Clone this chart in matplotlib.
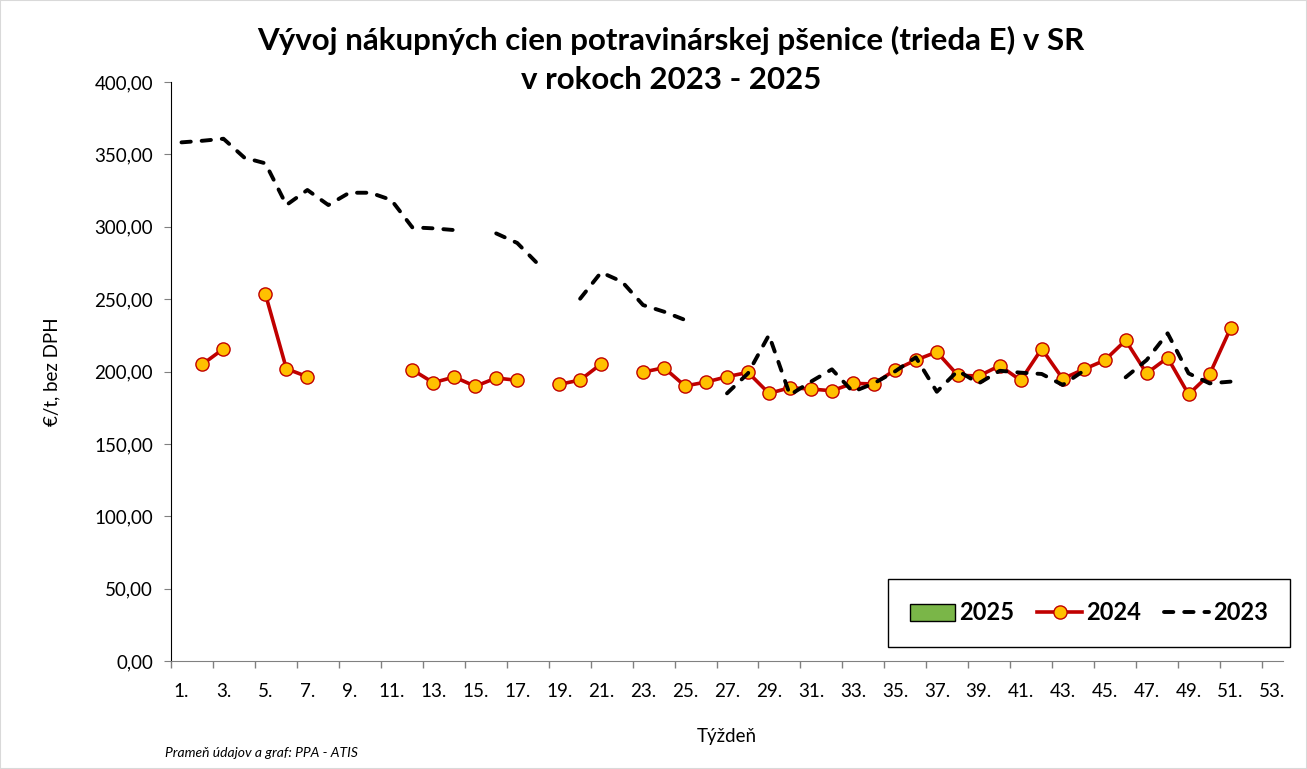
import numpy as np
import matplotlib.pyplot as plt
from matplotlib.patches import Patch, Rectangle

plt.rcParams['font.family'] = ['Lato', 'DejaVu Sans']

nan = np.nan
weeks = np.arange(1, 54)

# 2025 - no data yet
price_2025 = [nan] * 53

# 2024 weekly prices (EUR/t), gaps = no quotation
price_2024 = [nan, 205.0, 215.7, nan, 253.5, 201.9, 196.4, nan, nan, nan,
              nan, 201.2, 192.3, 196.2, 189.8, 195.5, 193.9, nan, 191.1, 194.1,
              205.2, nan, 199.6, 202.6, 190.0, 192.7, 196.4, 199.4, 184.9, 188.8,
              187.9, 186.7, 191.8, 191.4, 201.0, 207.9, 213.5, 197.4, 196.9, 204.0,
              193.9, 215.7, 195.0, 201.5, 207.7, 221.5, 198.7, 209.5, 184.2, 198.0,
              229.8, nan, nan]

# 2023 weekly prices (EUR/t)
price_2023 = [358.3, 359.4, 360.8, 347.7, 343.8, 315.0, 325.4, 315.0, 323.5, 323.5,
              318.5, 299.6, 298.9, 297.7, nan, 295.4, 288.8, 274.1, nan, 250.3,
              268.5, 262.0, 245.9, 241.3, 235.6, nan, 184.9, 198.7, 225.2, 183.8,
              193.0, 201.5, 186.0, 191.8, 200.0, 209.8, 186.0, 200.5, 191.8, 200.5,
              199.2, 198.3, 190.7, 200.5, nan, 196.0, 207.9, 226.4, 198.7, 191.8,
              193.0, nan, nan]

W, H = 1307, 769
fig = plt.figure(figsize=(W / 100, H / 100), dpi=100)
ax = fig.add_axes([171 / W, 1 - 661 / H, (1283 - 171) / W, (661 - 82) / H])

ax.bar(weeks, price_2025, width=0.6, color='#7AB648', edgecolor='black')
ax.plot(weeks, price_2024, color='#C00000', lw=2.6, marker='o', ms=9.5,
        mfc='#FFC000', mec='#C00000', mew=1.0, zorder=3)
ax.plot(weeks, price_2023, color='black', lw=2.8, ls=(0, (2.4, 2.8)),
        dash_capstyle='round', zorder=4)

ax.set_xlim(0.5, 53.5)
ax.set_ylim(0, 400)
ax.set_yticks(np.arange(0, 401, 50))
ax.set_yticklabels([f'{v:.2f}'.replace('.', ',') for v in range(0, 401, 50)])
ax.set_xticks(np.arange(1, 54, 2))
ax.set_xticklabels([f'{w}.' for w in range(1, 54, 2)])
ax.set_xticks(np.arange(0.5, 53, 2), minor=True)
ax.tick_params(axis='x', which='major', length=0, pad=16, labelsize=13.5)
ax.tick_params(axis='x', which='minor', length=5, color='#808080', width=1)
ax.tick_params(axis='y', length=5, color='#808080', pad=8, labelsize=13.5)

for s in ['top', 'right']:
    ax.spines[s].set_visible(False)
ax.spines['left'].set_color('black')
ax.spines['bottom'].set_color('#808080')

ax.set_ylabel('€/t, bez DPH', fontsize=13.5, labelpad=24)
ax.set_xlabel('Týždeň', fontsize=13.5, labelpad=20)

fig.text(671 / W, 1 - 40 / H, 'Vývoj nákupných cien potravinárskej pšenice (trieda E) v SR',
         ha='center', va='center', fontsize=22.5, fontweight='bold')
fig.text(671 / W, 1 - 80 / H, 'v rokoch 2023 - 2025',
         ha='center', va='center', fontsize=22.5, fontweight='bold')
fig.text(165 / W, 1 - 753 / H, 'Prameň údajov a graf: PPA - ATIS',
         ha='left', va='center', fontsize=10, style='italic')

handles = [Patch(facecolor='#7AB648', edgecolor='black'),
           plt.Line2D([], [], color='#C00000', lw=2.6, marker='o', ms=9.5,
                      mfc='#FFC000', mec='#C00000'),
           plt.Line2D([], [], color='black', lw=2.8, ls=(0, (2.4, 2.8)),
                      dash_capstyle='round')]
leg = ax.legend(handles, ['2025', '2024', '2023'], ncol=3,
                loc='center', bbox_to_anchor=((1089 - 171) / 1112, (661 - 613) / 579),
                prop={'weight': 'bold', 'size': 17}, fancybox=False,
                edgecolor='black', framealpha=1, borderpad=0.95,
                handlelength=1.9, handletextpad=0.15, columnspacing=1.0)
leg.get_frame().set_linewidth(1.0)

fig.patches.append(Rectangle((0, 0), 1, 1, transform=fig.transFigure,
                             fill=False, edgecolor='#D9D9D9', lw=1.5))

fig.savefig('out.png', dpi=100)
